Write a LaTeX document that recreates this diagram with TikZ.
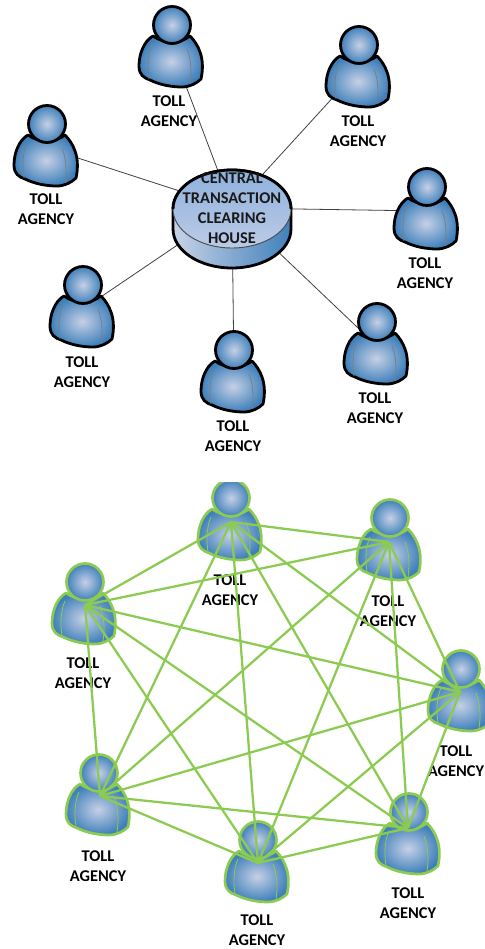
\documentclass[tikz,border=0pt]{standalone}
\usepackage{fontspec}
\setmainfont{Carlito}
\usetikzlibrary{calc}
\definecolor{blueout}{HTML}{3F80BA}
\definecolor{bluein}{HTML}{C6D0E6}
\definecolor{agreen}{HTML}{8CCB52}
\definecolor{innergrey}{HTML}{777F88}
\definecolor{drumtop}{HTML}{8FB1DD}
\definecolor{drumbot}{HTML}{BCCBE6}
\tikzset{
  x=0.75pt,y=-0.75pt,
  person/.pic={
    \path[shade,inner color=bluein,outer color=blueout,draw=\pgfkeysvalueof{/tikz/ol},line width=\pgfkeysvalueof{/tikz/olw},line join=round]
      (-19,11) .. controls (-28,16) and (-33,29) .. (-33,41)
      .. controls (-33,50) and (-28,53) .. (-22,55)
      .. controls (-12,60) and (0,62) .. (10,62)
      .. controls (18,62) and (25,58) .. (29,54)
      .. controls (31,45) and (31,35) .. (28,27)
      .. controls (26,21) and (22,15) .. (18,11)
      .. controls (8,19) and (-8,19) .. (-19,11) -- cycle;
    \draw[\pgfkeysvalueof{/tikz/il},line width=0.6pt]
      (-20,19) .. controls (-24,28) and (-25,40) .. (-23,54);
    \draw[\pgfkeysvalueof{/tikz/il},line width=0.6pt]
      (15,24) .. controls (19,34) and (20,46) .. (18,59);
    \path[shade,inner color=bluein,outer color=blueout,draw=\pgfkeysvalueof{/tikz/ol},line width=\pgfkeysvalueof{/tikz/olw}]
      (0,0) circle[radius=18.5];
  },
  ol/.initial=black, olw/.initial=2.1pt, il/.initial=innergrey,
  blackperson/.style={ol=black,olw=2.1pt,il=innergrey},
  greenperson/.style={ol=agreen,olw=2pt,il=agreen},
  lbl/.style={font=\fontsize{12.3pt}{15.2pt}\selectfont\bfseries,align=center,inner sep=0pt,text=black},
  hubline/.style={draw=black!75,line width=0.6pt},
  meshline/.style={draw=agreen,line width=1.7pt},
  hublbl/.style={font=\fontsize{12.3pt}{15pt}\selectfont\bfseries,align=center,inner sep=0pt,text=black!90}
}
\begin{document}
\begin{tikzpicture}
\useasboundingbox (0,0) rectangle (485,949);
\clip (0,0) rectangle (485,949);
% top: star
\coordinate (hub) at (232,208);
\foreach \n/\x/\y in {t1/172/25,t2/359/45,t3/427/187,t4/377/322,t5/234/350,t6/83/285,t7/47/124}{
  \coordinate (\n) at (\x,\y+24);
  \draw[hubline] (\n) -- (hub);
}
\foreach \x/\y in {172/25,359/45,427/187,377/322,234/350,83/285,47/124}{
  \pic[blackperson] at (\x,\y) {person};
}
% drum
\path[left color=bluein!95!white,right color=blueout,draw=black,line width=2.1pt]
  (173,209) -- (173,229) arc[start angle=180,end angle=0,x radius=59,y radius=39] -- (291,209) arc[start angle=0,end angle=-180,x radius=59,y radius=39] -- cycle;
\path[top color=drumtop,bottom color=drumbot,draw=black!70,line width=0.7pt] (232,209) ellipse[x radius=59,y radius=39];
\draw[black,line width=2.1pt] (173,209) arc[start angle=180,end angle=360,x radius=59,y radius=39];
\node[hublbl] (hubtext) at (232,208) {CENTRAL\\TRANSACTION\\CLEARING\\HOUSE};
\node[lbl] (lt1) at (169,111) {TOLL\\AGENCY};
\node[lbl] (lt2) at (358,131) {TOLL\\AGENCY};
\node[lbl] (lt3) at (425,273) {TOLL\\AGENCY};
\node[lbl] (lt4) at (375,408) {TOLL\\AGENCY};
\node[lbl] (lt5) at (233,436) {TOLL\\AGENCY};
\node[lbl] (lt6) at (82,372) {TOLL\\AGENCY};
\node[lbl] (lt7) at (46,209) {TOLL\\AGENCY};
% bottom: mesh
\foreach \x/\y in {231/498,390/518,461/669,409/812,258/840,99/773,85/582}{
  \pic[greenperson] at (\x,\y) {person};
}
\fill[white] (195,470) rectangle (270,482);
\node[lbl] (la) at (230,590) {TOLL\\AGENCY};
\node[lbl] (lb) at (388,611) {TOLL\\AGENCY};
\node[lbl] (lc) at (456,761) {TOLL\\AGENCY};
\node[lbl] (ld) at (408,903) {TOLL\\AGENCY};
\node[lbl] (le) at (257,930) {TOLL\\AGENCY};
\node[lbl] (lf) at (98,866) {TOLL\\AGENCY};
\node[lbl] (lg) at (83,673) {TOLL\\AGENCY};
\coordinate (a) at (231,522);
\coordinate (b) at (389,542);
\coordinate (c) at (460,692);
\coordinate (d) at (408,828);
\coordinate (e) at (258,863);
\coordinate (f) at (100,796);
\coordinate (g) at (85,605);
\foreach \u/\v in {a/b,a/c,a/d,a/e,a/f,a/g,b/c,b/d,b/e,b/f,b/g,c/d,c/e,c/f,c/g,d/e,d/f,d/g,e/f,e/g,f/g}{
  \draw[meshline] (\u) -- (\v);
}
\end{tikzpicture}
\end{document}
